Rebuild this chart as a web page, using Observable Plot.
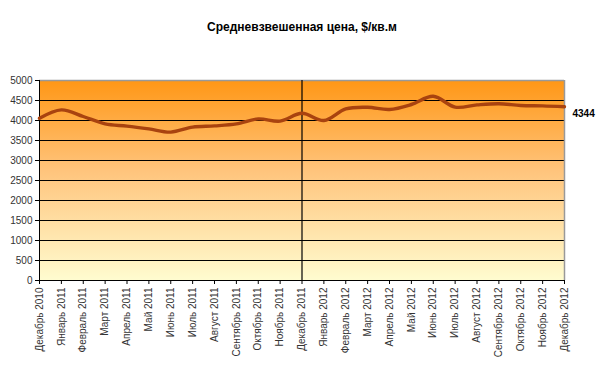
<!DOCTYPE html>
<html>
<head>
<meta charset="utf-8">
<script src="https://cdn.jsdelivr.net/npm/d3@7"></script>
<script src="https://cdn.jsdelivr.net/npm/@observablehq/plot@0.6"></script>
<style>
  body { margin: 0; background: #fff; }
  #chart svg { display: block; }
</style>
</head>
<body>
<div id="chart"></div>
<script>
const title = "Средневзвешенная цена, $/кв.м";
const months = [
  "Декабрь 2010", "Январь 2011", "Февраль 2011", "Март 2011", "Апрель 2011",
  "Май 2011", "Июнь 2011", "Июль 2011", "Август 2011", "Сентябрь 2011",
  "Октябрь 2011", "Ноябрь 2011", "Декабрь 2011", "Январь 2012", "Февраль 2012",
  "Март 2012", "Апрель 2012", "Май 2012", "Июнь 2012", "Июль 2012",
  "Август 2012", "Сентябрь 2012", "Октябрь 2012", "Ноябрь 2012", "Декабрь 2012"
];
const prices = [
  4055, 4265, 4100, 3915, 3860,
  3790, 3710, 3835, 3865, 3915,
  4040, 3985, 4180, 4000, 4290,
  4330, 4275, 4400, 4605, 4335,
  4390, 4420, 4375, 4365, 4344
];
const yTicks = [0, 500, 1000, 1500, 2000, 2500, 3000, 3500, 4000, 4500, 5000];
const dividerMonth = "Декабрь 2011";
const lastLabel = ["4344"];

const data = months.map((m, i) => ({i, month: m, price: prices[i]}));
const lastIdx = months.length - 1;
const dividerIdx = months.indexOf(dividerMonth);

const gradientDefs = () => {
  const svgNS = "http://www.w3.org/2000/svg";
  const defs = document.createElementNS(svgNS, "defs");
  const lg = document.createElementNS(svgNS, "linearGradient");
  lg.setAttribute("id", "bgGrad");
  lg.setAttribute("x1", "0"); lg.setAttribute("y1", "0");
  lg.setAttribute("x2", "0"); lg.setAttribute("y2", "1");
  [["0%", "#FF9716"], ["45%", "#FFC47C"], ["75%", "#FFE3AA"], ["100%", "#FFFCD0"]].forEach(([o, c]) => {
    const s = document.createElementNS(svgNS, "stop");
    s.setAttribute("offset", o);
    s.setAttribute("stop-color", c);
    lg.appendChild(s);
  });
  defs.appendChild(lg);
  return defs;
};

const chart = Plot.plot({
  width: 600,
  height: 368,
  marginLeft: 39,
  marginRight: 36,
  marginTop: 80,
  marginBottom: 88,
  style: {fontFamily: "Liberation Sans, Arial, sans-serif", fontSize: "10px", color: "#222", background: "#fff"},
  x: {type: "linear", domain: [0, lastIdx], label: null},
  y: {domain: [0, 5000], label: null},
  marks: [
    gradientDefs,
    Plot.frame({fill: "url(#bgGrad)", stroke: null}),
    Plot.ruleY(yTicks.filter(d => d > 0 && d < 5000), {stroke: "#000", strokeWidth: 1}),
    Plot.ruleY([5000], {stroke: "#999", strokeWidth: 1.5}),
    Plot.ruleX([lastIdx], {stroke: "#999", strokeWidth: 1.5}),
    Plot.ruleX([dividerIdx], {stroke: "#000", strokeWidth: 1.2}),
    Plot.axisY({ticks: yTicks, tickFormat: d => String(d), tickSize: 4, tickPadding: 3, fill: "#333", stroke: "#000"}),
    Plot.axisX({ticks: d3.range(months.length), tickFormat: i => months[i], tickSize: 4, tickRotate: -90, tickPadding: 3, fill: "#333", stroke: "#000"}),
    Plot.ruleX([0], {stroke: "#000", strokeWidth: 1}),
    Plot.ruleY([0], {stroke: "#000", strokeWidth: 1}),
    Plot.line(data, {x: "i", y: "price", stroke: "#A9430F", strokeWidth: 3.4, curve: "catmull-rom"}),
    Plot.text(lastLabel, {x: () => lastIdx, y: () => prices[lastIdx], text: d => d, textAnchor: "start", dx: 8, dy: 7, fontWeight: "bold", fill: "#000", fontSize: 10}),
    Plot.text([title], {frameAnchor: "top", dy: -58, fontWeight: "bold", fontSize: 12, fill: "#000"})
  ]
});
document.getElementById("chart").appendChild(chart);
</script>
</body>
</html>
